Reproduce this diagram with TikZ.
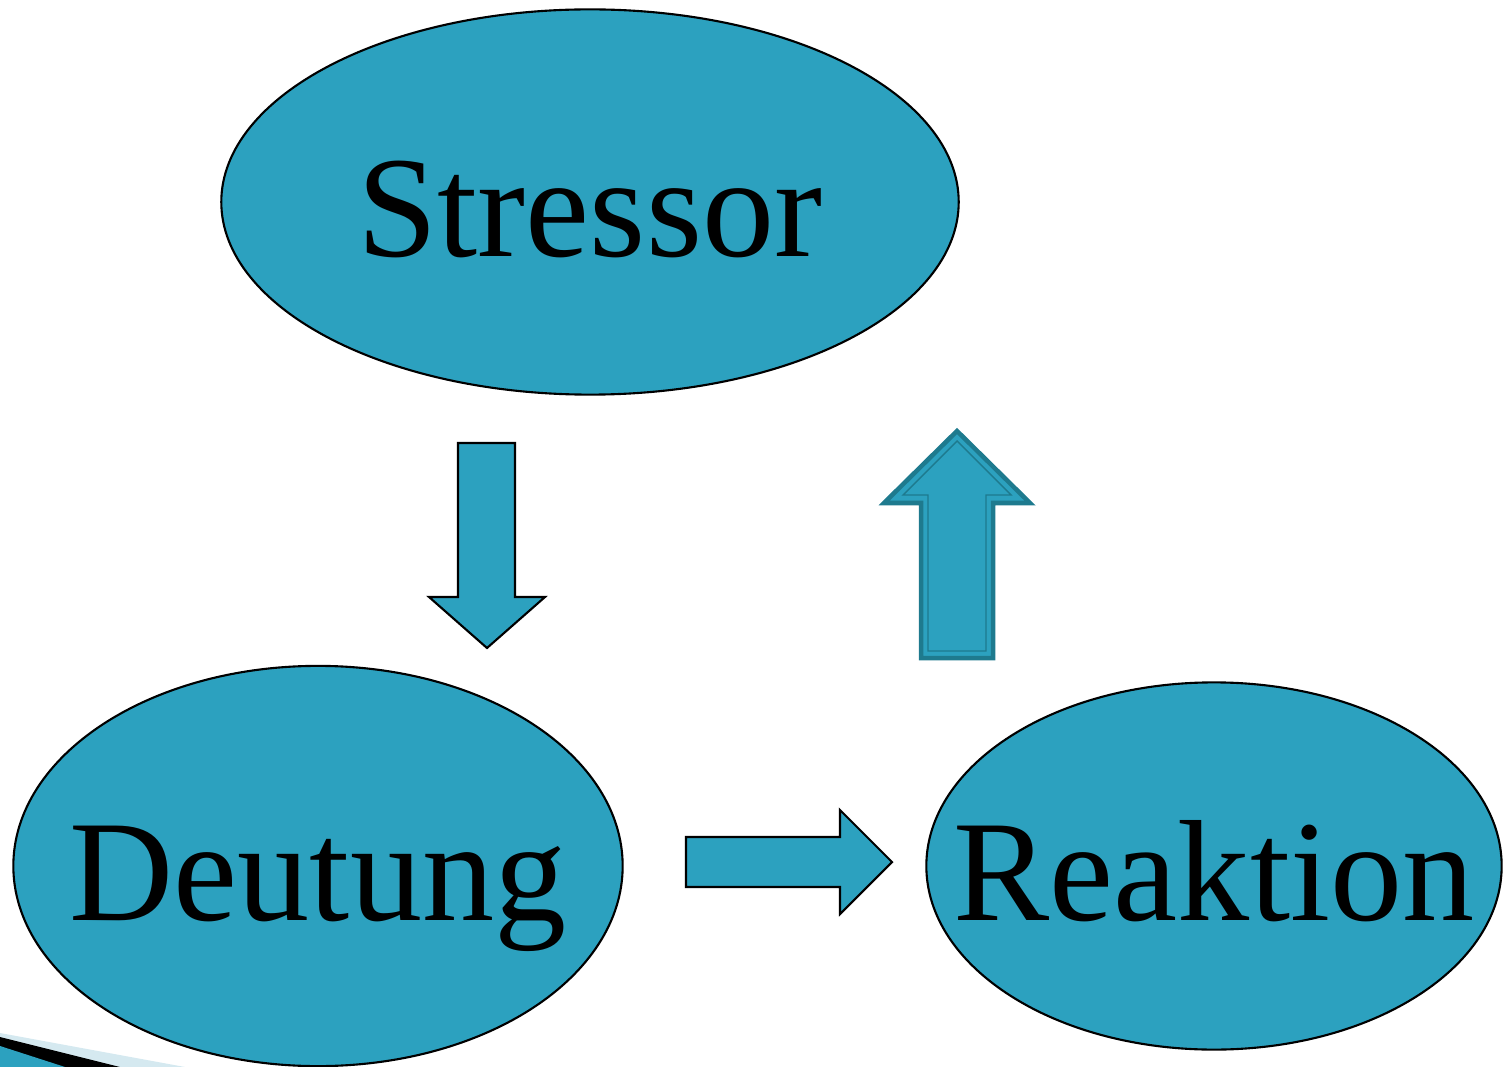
\documentclass[tikz,border=0pt]{standalone}
\usepackage{fontspec}
\setmainfont{Liberation Serif}
\usepackage{tikz}
\usetikzlibrary{shapes.geometric,positioning}
\definecolor{tealfill}{HTML}{2CA1BF}
\definecolor{tealdark}{HTML}{1E7A8E}
\definecolor{tealpale}{HTML}{D5E9F0}

\begin{document}
\begin{tikzpicture}[x=0.01cm,y=-0.01cm,line join=miter,
    blob/.style={ellipse,draw=black,line width=0.6pt,fill=tealfill,inner sep=0pt},
    word/.style={font=\fontsize{41}{47}\selectfont,inner sep=0pt,text height=32pt,text depth=1pt},
    block/.style={draw=black,line width=0.6pt,fill=tealfill},
    upblock/.style={draw=tealdark,line width=0.045cm,fill=tealfill}]
    \useasboundingbox (0,0) rectangle (1503,1067);

    % corner of the slide
    \fill[tealpale] (0,1033) -- (185,1067) -- (0,1067) -- cycle;
    \fill[black] (0,1037) -- (120,1067) -- (0,1067) -- cycle;
    \fill[tealfill] (0,1046) -- (65,1067) -- (0,1067) -- cycle;

    \node[blob,minimum width=7.37cm,minimum height=3.85cm,label={[word]center:Stressor}] (S) at (590,202) {};
    \node[blob,minimum width=6.09cm,minimum height=4.0cm,label={[word]center:Deutung}] (D) at (318,866) {};
    \node[blob,minimum width=5.75cm,minimum height=3.67cm,label={[word]center:Reaktion}] (R) at (1214,866) {};

    % block arrows between the ellipses
    \draw[block] (458,443) -- (515,443) -- (515,597) -- (545,597) -- (487,648)
      -- (429,597) -- (458,597) -- cycle;
    \draw[block] (686,837) -- (840,837) -- (840,810) -- (892,862) -- (840,914)
      -- (840,887) -- (686,887) -- cycle;
    \draw[upblock] (921,658) -- (921,503) -- (884,503) -- (957,431) -- (1030,503)
      -- (993,503) -- (993,658) -- cycle;
    \draw[tealdark,line width=0.4pt] (928,651) -- (928,495) -- (903,495) -- (957,441)
      -- (1011,495) -- (986,495) -- (986,651) -- cycle;

\end{tikzpicture}
\end{document}
